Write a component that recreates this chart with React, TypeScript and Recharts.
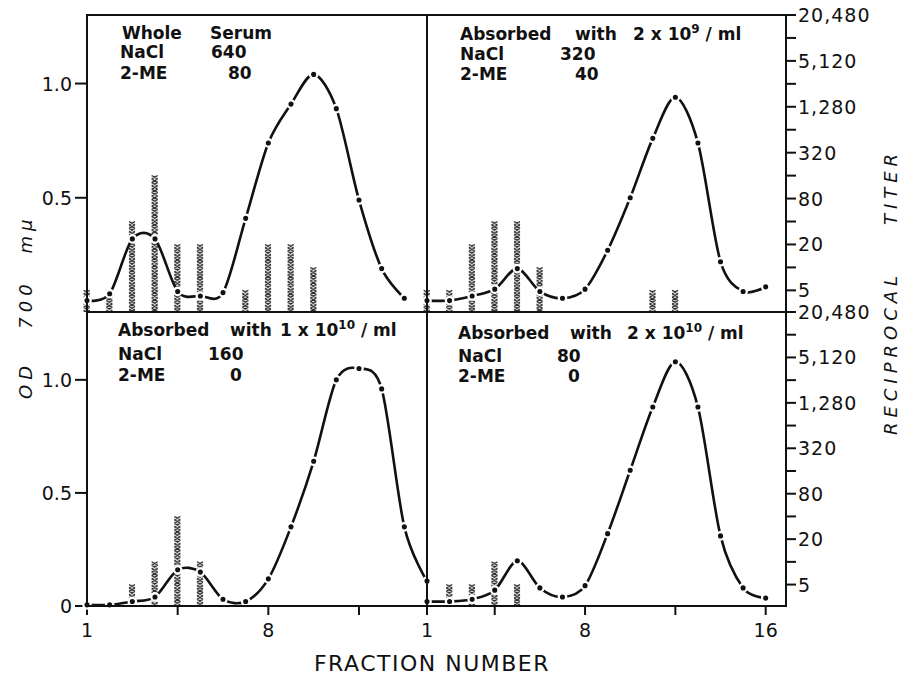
import React from 'react';
import { ComposedChart, Line, Bar, XAxis, YAxis } from 'recharts';

const fractions = [1, 2, 3, 4, 5, 6, 7, 8, 9, 10, 11, 12, 13, 14, 15, 16];

// OD 700 mμ, one value per fraction (null = not measured)
const odWholeSerum = [0.05, 0.08, 0.32, 0.32, 0.09, 0.07, 0.085, 0.41, 0.74, 0.91, 1.04, 0.89, 0.49, 0.19, 0.06, null];
const odAbs2e9 = [0.05, 0.05, 0.07, 0.1, 0.19, 0.09, 0.06, 0.1, 0.27, 0.5, 0.76, 0.94, 0.74, 0.22, 0.09, 0.11];
const odAbs1e10 = [0.005, 0.005, 0.02, 0.04, 0.16, 0.15, 0.03, 0.02, 0.12, 0.35, 0.64, 1.0, 1.05, 0.96, 0.35, 0.11];
const odAbs2e10 = [0.02, 0.02, 0.03, 0.07, 0.2, 0.08, 0.04, 0.09, 0.32, 0.6, 0.88, 1.08, 0.88, 0.31, 0.08, 0.035];

// reciprocal titer per fraction (hatched bars)
const titerWholeSerum = [5, 5, 40, 160, 20, 20, null, 5, 20, 20, 10, null, null, null, null, null];
const titerAbs2e9 = [5, 5, 20, 40, 40, 10, null, null, null, null, 5, 5, null, null, null, null];
const titerAbs1e10 = [null, null, 5, 10, 40, 10, null, null, null, null, null, null, null, null, null, null];
const titerAbs2e10 = [null, 5, 5, 10, 5, null, null, null, null, null, null, null, null, null, null, null];

const titerTicks = [5, 10, 20, 40, 80, 160, 320, 640, 1280, 2560, 5120, 10240, 20480];
const titerLabeled = [5, 20, 80, 320, 1280, 5120, 20480];
const odTicksTop = [0.5, 1.0];
const odTicksBottom = [0, 0.5, 1.0];
const leftXTicks = [1, 5, 9, 13];
const leftXLabels = ['1', '', '8', ''];
const rightXTicks = [1, 4, 8, 12, 16];
const rightXLabels = ['1', '', '8', '', '16'];

const FONT = '"DejaVu Sans", sans-serif';
const INK = '#111';

function buildRows(od: (number | null)[], titer: (number | null)[]) {
  return fractions.map((f, i) => ({ f, od: od[i], titer: titer[i] }));
}

// cardinal spline so the hand-drawn curves pass smoothly through every point
function cardinalSegment(c: any, x: number, y: number) {
  c._context.bezierCurveTo(
    c._x1 + c._k * (c._x2 - c._x0),
    c._y1 + c._k * (c._y2 - c._y0),
    c._x2 + c._k * (c._x1 - x),
    c._y2 + c._k * (c._y1 - y),
    c._x2,
    c._y2
  );
}

class Cardinal {
  _context: any; _k: number; _line: any; _point = 0;
  _x0 = NaN; _x1 = NaN; _x2 = NaN; _y0 = NaN; _y1 = NaN; _y2 = NaN;
  constructor(context: any, tension: number) {
    this._context = context;
    this._k = (1 - tension) / 6;
  }
  areaStart() { this._line = 0; }
  areaEnd() { this._line = NaN; }
  lineStart() {
    this._x0 = this._x1 = this._x2 = this._y0 = this._y1 = this._y2 = NaN;
    this._point = 0;
  }
  lineEnd() {
    switch (this._point) {
      case 2: this._context.lineTo(this._x2, this._y2); break;
      case 3: cardinalSegment(this, this._x1, this._y1); break;
    }
    if (this._line || (this._line !== 0 && this._point === 1)) this._context.closePath();
    this._line = 1 - this._line;
  }
  point(x: number, y: number) {
    x = +x; y = +y;
    switch (this._point) {
      case 0: this._point = 1; this._line ? this._context.lineTo(x, y) : this._context.moveTo(x, y); break;
      case 1: this._point = 2; this._x1 = x; this._y1 = y; break;
      case 2: this._point = 3; cardinalSegment(this, x, y); break;
      default: cardinalSegment(this, x, y); break;
    }
    this._x0 = this._x1; this._x1 = this._x2; this._x2 = x;
    this._y0 = this._y1; this._y1 = this._y2; this._y2 = y;
  }
}

const smoothCurve = (context: any) => new Cardinal(context, 0.1);

const HatchBar = (props: any) => {
  const { x, y, width, height } = props;
  if (!(height > 0) || !(width > 0)) return null;
  const step = 3.4;
  let d = '';
  for (let yy = y; yy < y + height - 0.5; yy += step) {
    const y2 = Math.min(yy + step, y + height);
    d += `M${x},${yy}L${x + width},${y2}M${x + width},${yy}L${x},${y2}`;
  }
  return (
    <g>
      <rect x={x} y={y} width={width} height={height} fill="#cfcfcf" />
      <path d={d} stroke="#333" strokeWidth={1.15} fill="none" />
    </g>
  );
};

const OdTick = (props: any) => {
  const { x, y, payload } = props;
  const v = payload.value;
  return (
    <text x={x} y={y} dy={7} textAnchor="end" fontSize={19} fontFamily={FONT} fill={INK}>
      {v === 0 ? '0' : v.toFixed(1)}
    </text>
  );
};

const TiterTick = (props: any) => {
  const { x, y, payload } = props;
  const v = payload.value;
  if (!titerLabeled.includes(v)) return null;
  return (
    <text x={x} y={y} dy={7} textAnchor="start" fontSize={19} letterSpacing={1} fontFamily={FONT} fill={INK}>
      {v.toLocaleString('en-US')}
    </text>
  );
};

const makeXTick = (ticks: number[], labels: string[]) => (props: any) => {
  const { x, y, payload } = props;
  const label = labels[ticks.indexOf(payload.value)];
  if (!label) return null;
  return (
    <text x={x} y={y} dy={20} textAnchor="middle" fontSize={19} fontFamily={FONT} fill={INK}>
      {label}
    </text>
  );
};

type PanelProps = {
  rows: any[];
  left: number;
  top: number;
  width: number;
  height: number;
  margin: { top: number; right: number; bottom: number; left: number };
  side: 'left' | 'right';
  bottom: boolean;
  odTicks: number[];
  xMax: number;
  xTicks: number[];
  xLabels: string[];
};

function Panel({ rows, left, top, width, height, margin, side, bottom, odTicks, xMax, xTicks, xLabels }: PanelProps) {
  return (
    <div style={{ position: 'absolute', left, top }}>
      <ComposedChart width={width} height={height} data={rows} margin={margin}>
        <XAxis
          dataKey="f"
          type="number"
          domain={[1, xMax]}
          ticks={xTicks}
          interval={0}
          hide={!bottom}
          height={40}
          tickSize={9}
          tickLine={{ stroke: INK, strokeWidth: 2 }}
          axisLine={false}
          tick={makeXTick(xTicks, xLabels)}
        />
        <YAxis
          yAxisId="od"
          type="number"
          domain={[0, 1.3]}
          ticks={odTicks}
          interval={0}
          hide={side !== 'left'}
          width={87}
          tickSize={12}
          tickMargin={3}
          tickLine={{ stroke: INK, strokeWidth: 2 }}
          axisLine={false}
          tick={OdTick}
        />
        <YAxis
          yAxisId="titer"
          orientation="right"
          type="number"
          scale="log"
          domain={[2.6, 20480]}
          allowDataOverflow
          ticks={titerTicks}
          interval={0}
          hide={side !== 'right'}
          width={117}
          tickSize={10}
          tickMargin={2}
          tickLine={{ stroke: INK, strokeWidth: 2 }}
          axisLine={false}
          tick={TiterTick}
        />
        <Bar yAxisId="titer" dataKey="titer" barSize={6} shape={HatchBar} isAnimationActive={false} />
        <Line
          yAxisId="od"
          dataKey="od"
          type={smoothCurve as any}
          stroke={INK}
          strokeWidth={2.6}
          dot={{ r: 3.7, fill: INK, stroke: '#fff', strokeWidth: 2.3 }}
          activeDot={false}
          isAnimationActive={false}
        />
      </ComposedChart>
    </div>
  );
}

const txt = { fontFamily: FONT, fontSize: 17, fontWeight: 700, fill: INK } as const;
const titleTxt = { fontFamily: FONT, fontSize: 18, fontStyle: 'italic', fill: INK, letterSpacing: 5 } as const;

export default function App() {
  return (
    <div style={{ position: 'relative', width: 903, height: 677, background: '#fff', overflow: 'hidden' }}>
      <style>{'body{margin:0}'}</style>
      <Panel
        rows={buildRows(odWholeSerum, titerWholeSerum)}
        left={0} top={0} width={440} height={312}
        margin={{ top: 15, right: 13, bottom: 0, left: 0 }}
        side="left" bottom={false} odTicks={odTicksTop}
        xMax={16} xTicks={leftXTicks} xLabels={leftXLabels}
      />
      <Panel
        rows={buildRows(odAbs2e9, titerAbs2e9)}
        left={414} top={0} width={489} height={312}
        margin={{ top: 15, right: 0, bottom: 0, left: 13 }}
        side="right" bottom={false} odTicks={odTicksTop}
        xMax={16.9} xTicks={rightXTicks} xLabels={rightXLabels}
      />
      <Panel
        rows={buildRows(odAbs1e10, titerAbs1e10)}
        left={0} top={297} width={440} height={380}
        margin={{ top: 15, right: 13, bottom: 31, left: 0 }}
        side="left" bottom={true} odTicks={odTicksBottom}
        xMax={16} xTicks={leftXTicks} xLabels={leftXLabels}
      />
      <Panel
        rows={buildRows(odAbs2e10, titerAbs2e10)}
        left={414} top={297} width={489} height={380}
        margin={{ top: 15, right: 0, bottom: 31, left: 13 }}
        side="right" bottom={true} odTicks={odTicksBottom}
        xMax={16.9} xTicks={rightXTicks} xLabels={rightXLabels}
      />

      <svg width={903} height={677} style={{ position: 'absolute', left: 0, top: 0, pointerEvents: 'none' }}>
        {/* panel frames */}
        <g stroke={INK} strokeWidth={2} fill="none">
          <rect x={87} y={15} width={699} height={591} />
          <line x1={427} y1={15} x2={427} y2={606} />
          <line x1={87} y1={312} x2={786} y2={312} />
        </g>

        {/* top-left */}
        <text {...txt} x={122} y={39}>Whole</text>
        <text {...txt} x={210} y={39}>Serum</text>
        <text {...txt} x={120} y={58}>NaCl</text>
        <text {...txt} x={211} y={58}>640</text>
        <text {...txt} x={120} y={79}>2-ME</text>
        <text {...txt} x={228} y={79}>80</text>

        {/* top-right */}
        <text {...txt} x={460} y={40}>Absorbed</text>
        <text {...txt} x={575} y={40}>with</text>
        <text {...txt} x={633} y={40}>
          2 x 10<tspan dy={-7} fontSize={12}>9</tspan><tspan dy={7}> / ml</tspan>
        </text>
        <text {...txt} x={460} y={60}>NaCl</text>
        <text {...txt} x={560} y={60}>320</text>
        <text {...txt} x={460} y={80}>2-ME</text>
        <text {...txt} x={575} y={80}>40</text>

        {/* bottom-left */}
        <text {...txt} x={118} y={336}>Absorbed</text>
        <text {...txt} x={230} y={336}>with</text>
        <text {...txt} x={280} y={336}>
          1 x 10<tspan dy={-7} fontSize={12}>10</tspan><tspan dy={7}> / ml</tspan>
        </text>
        <text {...txt} x={118} y={360}>NaCl</text>
        <text {...txt} x={208} y={360}>160</text>
        <text {...txt} x={118} y={381}>2-ME</text>
        <text {...txt} x={230} y={381}>0</text>

        {/* bottom-right */}
        <text {...txt} x={458} y={339}>Absorbed</text>
        <text {...txt} x={570} y={339}>with</text>
        <text {...txt} x={627} y={339}>
          2 x 10<tspan dy={-7} fontSize={12}>10</tspan><tspan dy={7}> / ml</tspan>
        </text>
        <text {...txt} x={458} y={362}>NaCl</text>
        <text {...txt} x={557} y={362}>80</text>
        <text {...txt} x={458} y={382}>2-ME</text>
        <text {...txt} x={568} y={382}>0</text>

        {/* axis titles */}
        <text {...titleTxt} transform="translate(25,380) rotate(-90)" textAnchor="middle" dominantBaseline="central">OD</text>
        <text {...titleTxt} transform="translate(25,304) rotate(-90)" textAnchor="middle" dominantBaseline="central">700</text>
        <text {...titleTxt} transform="translate(25,234) rotate(-90)" textAnchor="middle" dominantBaseline="central">mμ</text>
        <text {...titleTxt} transform="translate(890,353) rotate(-90)" textAnchor="middle" dominantBaseline="central">RECIPROCAL</text>
        <text {...titleTxt} transform="translate(890,187) rotate(-90)" textAnchor="middle" dominantBaseline="central">TITER</text>

        <text x={432} y={671} textAnchor="middle" fontFamily={FONT} fontSize={22} letterSpacing={1.5} fill={INK}>
          FRACTION NUMBER
        </text>
      </svg>
    </div>
  );
}
